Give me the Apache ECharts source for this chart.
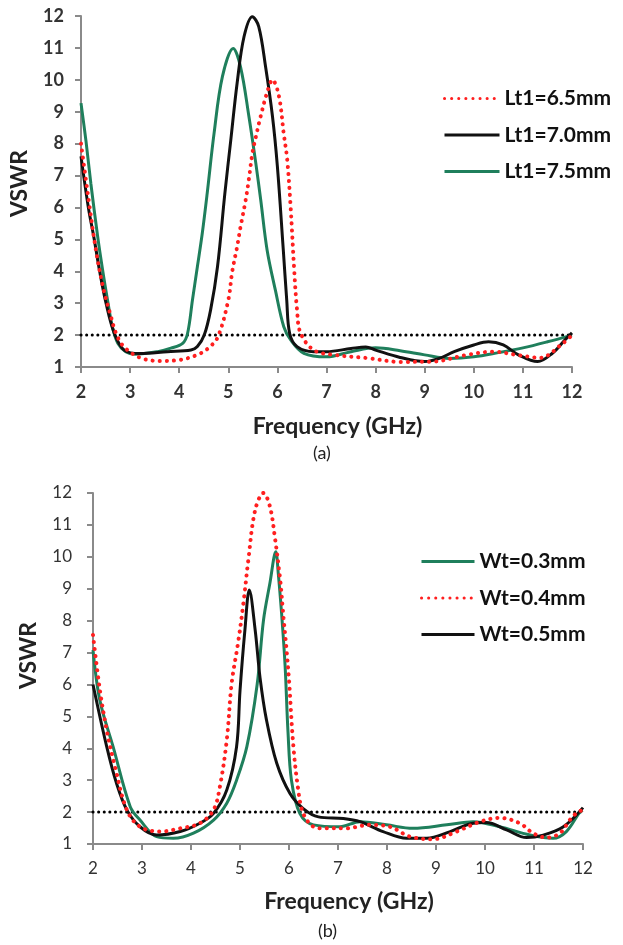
<!DOCTYPE html>
<html><head><meta charset="utf-8">
<script src="https://cdn.jsdelivr.net/npm/echarts@6/dist/echarts.min.js"></script>
<style>html,body{margin:0;padding:0;background:#fff}#c{width:623px;height:945px}</style>
</head><body><div id="c"></div>
<script>
// ---- Chart (a) ----
const aRedX   = [2.0,2.15,2.3,2.45,2.61,2.71,2.87,3.22,3.63,4.0,4.37,4.6,4.79,5.0,5.08,5.18,5.25,5.35,5.42,5.49,5.56,5.65,5.79,5.9,6.03,6.13,6.2,6.27,6.34,6.4,6.47,6.74,7.15,7.83,8.5,9.17,9.86,10.4,10.87,11.35,11.82,12.0];
const aRedY   = [8.0,6.3,4.7,3.5,2.58,2.07,1.64,1.28,1.19,1.22,1.38,1.6,1.95,3.1,3.99,4.77,5.4,6.2,6.9,7.7,8.2,8.8,9.6,10.0,9.5,8.3,7.5,6.0,4.1,2.8,2.07,1.53,1.38,1.28,1.16,1.17,1.38,1.48,1.38,1.29,1.75,2.0];
const aBlackX = [2.0,2.15,2.27,2.38,2.51,2.68,2.88,3.2,3.76,4.24,4.37,4.51,4.64,4.78,4.93,5.05,5.18,5.32,5.49,5.62,5.76,5.9,6.0,6.12,6.19,6.25,6.4,6.74,7.0,7.5,7.8,8.0,8.5,9.0,9.3,9.6,10.0,10.3,10.6,10.9,11.3,11.6,11.85,12.0];
const aBlackY = [7.6,6.0,5.0,4.0,3.0,2.05,1.53,1.42,1.48,1.53,1.64,2.0,2.79,4.14,6.44,8.1,9.9,11.35,11.98,11.67,10.4,8.85,7.28,4.67,3.1,2.05,1.64,1.48,1.48,1.58,1.63,1.53,1.3,1.17,1.27,1.48,1.69,1.79,1.69,1.39,1.17,1.43,1.84,2.07];
const aGreenX = [2.0,2.1,2.2,2.34,2.44,2.54,2.64,2.75,2.91,3.1,3.56,3.83,4.07,4.17,4.27,4.37,4.47,4.57,4.71,4.88,5.1,5.25,5.42,5.56,5.66,5.79,5.96,6.13,6.27,6.54,7.0,7.5,8.0,8.5,9.0,9.5,10.0,10.5,11.0,11.5,12.0];
const aGreenY = [9.27,8.1,6.76,5.08,4.04,3.1,2.26,1.74,1.48,1.4,1.48,1.59,1.74,2.05,3.1,4.14,5.19,6.44,8.32,10.1,10.98,10.4,8.85,7.39,6.24,4.67,3.4,2.26,1.85,1.43,1.32,1.48,1.6,1.51,1.38,1.27,1.32,1.45,1.6,1.79,2.0];
const aNames  = ['Lt1=6.5mm','Lt1=7.0mm','Lt1=7.5mm'];

// ---- Chart (b) ----
const bGreenX = [2.0,2.14,2.41,2.76,2.96,3.3,3.64,4.05,4.46,4.73,4.93,5.14,5.35,5.48,5.61,5.73,5.78,5.85,5.92,5.98,6.05,6.22,6.5,7.04,7.45,7.99,8.53,9.22,9.76,10.3,10.92,11.39,11.66,11.94,12.0];
const bGreenY = [7.08,5.5,4.05,2.17,1.75,1.23,1.18,1.34,1.75,2.28,3.0,4.05,6.0,8.02,9.17,10.16,9.5,8.2,6.6,4.5,3.0,1.96,1.6,1.54,1.7,1.6,1.49,1.6,1.7,1.54,1.28,1.18,1.39,2.01,2.05];
const bRedX   = [2.0,2.14,2.28,2.45,2.69,2.96,3.37,3.78,4.18,4.46,4.59,4.73,4.83,4.96,5.07,5.17,5.31,5.48,5.61,5.71,5.82,5.88,5.95,6.0,6.09,6.19,6.29,6.5,6.7,7.15,7.65,8.06,8.47,8.94,9.42,9.9,10.3,10.71,10.98,11.26,11.53,11.73,11.9,12.0];
const bRedY   = [7.55,5.83,4.57,3.42,2.07,1.54,1.39,1.49,1.65,2.07,2.8,4.26,6.04,7.3,8.55,9.9,11.47,12.0,11.58,10.63,9.28,8.23,7.08,6.14,4.05,2.69,1.96,1.54,1.49,1.49,1.6,1.54,1.23,1.15,1.39,1.7,1.82,1.65,1.34,1.2,1.34,1.75,2.01,2.05];
const bBlackX = [2.0,2.28,2.48,2.69,2.96,3.3,3.78,4.18,4.46,4.73,4.93,5.0,5.1,5.19,5.31,5.41,5.54,5.75,6.02,6.29,6.6,7.11,7.45,7.92,8.4,8.81,9.29,9.76,10.03,10.44,10.85,11.19,11.6,12.0];
const bBlackY = [6.0,4.05,2.9,2.07,1.54,1.28,1.39,1.65,1.96,2.69,4.05,5.8,7.7,8.96,7.7,6.2,4.89,3.53,2.58,2.11,1.85,1.8,1.7,1.39,1.18,1.18,1.39,1.65,1.67,1.44,1.2,1.28,1.54,2.14];
const bNames  = ['Wt=0.3mm','Wt=0.4mm','Wt=0.5mm'];

const refX = [2, 12];
const refY = [2, 2];
const xTickValues = [2,3,4,5,6,7,8,9,10,11,12];
const yTickValues = [1,2,3,4,5,6,7,8,9,10,11,12];

const pairs = (xs, ys) => xs.map((x, i) => [x, ys[i]]);
const FONT = 'Lato, "Open Sans", sans-serif';
const RED = '#ff1f1f', BLACK = '#111111', GREEN = '#1f7f5c';

function solid(name, color, xs, ys, g) {
  return { type:'line', name, xAxisIndex:g, yAxisIndex:g, data:pairs(xs,ys), smooth:0.35,
    symbol:'circle', showSymbol:false, lineStyle:{ color, width:3 }, itemStyle:{ color }, z:3 };
}
function dotted(name, color, xs, ys, g) {
  return { type:'line', name, xAxisIndex:g, yAxisIndex:g, data:pairs(xs,ys), smooth:0.35,
    symbol:'circle', showSymbol:false, lineStyle:{ color, width:4, type:[0.1,7], cap:'round' }, itemStyle:{ color }, z:4 };
}
function refLine(g) {
  return { type:'line', name:'ref'+g, xAxisIndex:g, yAxisIndex:g, data:pairs(refX, refY),
    symbol:'none', lineStyle:{ color:'#000', width:3, type:[0.1,5.5], cap:'round' }, z:2, silent:true };
}
function xAx(g, bold, nameGap) {
  return { type:'value', gridIndex:g, min:xTickValues[0], max:xTickValues[xTickValues.length-1], interval:1,
    axisLine:{ lineStyle:{ color:'#8a8a8a', width:2 } },
    axisTick:{ show:true, length:6, lineStyle:{ color:'#8a8a8a', width:2 } },
    splitLine:{ show:false },
    axisLabel:{ margin:16, fontSize:bold?18:17, fontWeight:bold?'bold':'normal', color:'#333', fontFamily:FONT },
    name:'Frequency (GHz)', nameLocation:'middle', nameGap,
    nameTextStyle:{ fontSize:23, fontWeight:'bold', color:'#222', fontFamily:FONT, padding:[0,0,0,22] } };
}
function yAx(g, bold, margin, nameGap, shift) {
  return { type:'value', gridIndex:g, min:yTickValues[0], max:yTickValues[yTickValues.length-1], interval:1,
    axisLine:{ show:true, lineStyle:{ color:'#8a8a8a', width:2 } },
    axisTick:{ show:true, length:6, lineStyle:{ color:'#8a8a8a', width:2 } },
    splitLine:{ show:false },
    axisLabel:{ margin, fontSize:bold?18:17, fontWeight:bold?'bold':'normal', color:'#333', fontFamily:FONT },
    name:'VSWR', nameLocation:'middle', nameGap,
    nameTextStyle:{ fontSize:23, fontWeight:'bold', color:'#222', fontFamily:FONT, padding:[0,0,0,shift] } };
}
function legend(data, left, top, w) {
  return { data, orient:'vertical', left, top, itemWidth:w, itemHeight:20, itemGap:15.5,
    itemStyle:{ opacity:0 }, lineStyle:{ width:3 },
    textStyle:{ fontSize:21, fontWeight:'bold', color:'#111', fontFamily:FONT } };
}

const chart = echarts.init(document.getElementById('c'), null, { renderer:'canvas' });
chart.setOption({
  backgroundColor:'#fff',
  animation:false,
  grid:[ { left:80, top:16, width:492, height:351 }, { left:93, top:493, width:490, height:351 } ],
  xAxis:[ xAx(0, true, 48), xAx(1, false, 46) ],
  yAxis:[ yAx(0, true, 17, 50, 16), yAx(1, false, 21, 53, 26) ],
  legend:[ legend(aNames, 438, 83, 55), legend(bNames, 415, 546, 53) ],
  graphic:[
    { type:'text', left:313, top:444, style:{ text:'(a)', fontSize:18, fill:'#222', fontFamily:FONT } },
    { type:'text', left:318, top:922, style:{ text:'(b)', fontSize:18, fill:'#222', fontFamily:FONT } }
  ],
  series:[
    refLine(0),
    solid(aNames[2], GREEN, aGreenX, aGreenY, 0),
    solid(aNames[1], BLACK, aBlackX, aBlackY, 0),
    dotted(aNames[0], RED, aRedX, aRedY, 0),
    refLine(1),
    solid(bNames[0], GREEN, bGreenX, bGreenY, 1),
    solid(bNames[2], BLACK, bBlackX, bBlackY, 1),
    dotted(bNames[1], RED, bRedX, bRedY, 1)
  ]
});
</script>
</body></html>
